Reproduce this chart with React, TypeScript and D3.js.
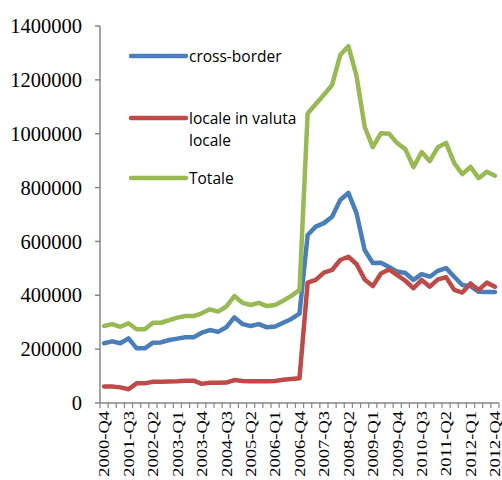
import React from "react";
import * as d3 from "d3";

const quarters: string[] = (() => {
  const out: string[] = [];
  for (let y = 2000; y <= 2012; y++) {
    for (let q = 1; q <= 4; q++) {
      if (y === 2000 && q < 4) continue;
      out.push(`${y}-Q${q}`);
    }
  }
  return out;
})();

const crossBorder = [
  222000, 229000, 222000, 240000, 203000, 203000, 224000, 225000, 234000, 239000,
  244000, 244000, 261000, 271000, 264000, 281000, 318000, 293000, 286000, 293000,
  281000, 284000, 298000, 312000, 332000, 624000, 655000, 668000, 692000, 754000,
  780000, 705000, 568000, 520000, 521000, 505000, 488000, 483000, 457000, 479000,
  469000, 491000, 501000, 469000, 438000, 434000, 413000, 412000, 412000,
];

const localeValuta = [
  61000, 61000, 58000, 51000, 73000, 73000, 79000, 79000, 80000, 81000,
  83000, 83000, 71000, 75000, 75000, 76000, 85000, 82000, 81000, 81000,
  81000, 82000, 86000, 89000, 92000, 447000, 457000, 484000, 494000, 531000,
  543000, 516000, 459000, 434000, 481000, 496000, 475000, 454000, 426000, 457000,
  432000, 459000, 467000, 420000, 410000, 444000, 420000, 447000, 432000,
];

const totale = [
  286000, 293000, 283000, 296000, 274000, 274000, 298000, 298000, 308000, 317000,
  323000, 323000, 333000, 348000, 339000, 358000, 397000, 372000, 364000, 372000,
  360000, 364000, 380000, 398000, 420000, 1075000, 1110000, 1145000, 1181000, 1292000,
  1325000, 1215000, 1026000, 950000, 1002000, 1000000, 965000, 943000, 876000, 932000,
  898000, 950000, 966000, 891000, 850000, 877000, 835000, 859000, 844000,
];

const yTicks = [0, 200000, 400000, 600000, 800000, 1000000, 1200000, 1400000];

const seriesNames = ["cross-border", "locale in valuta\nlocale", "Totale"];
const seriesColors = ["#4A7EBB", "#BE4B48", "#98B954"];

export default function App() {
  const W = 502;
  const H = 480;
  const left = 100;
  const right = 499;
  const top = 26;
  const bottom = 403;

  const x = d3.scaleBand<string>().domain(quarters).range([left, right]).padding(0);
  const y = d3.scaleLinear().domain([0, 1400000]).range([bottom, top]);
  const cx = (q: string) => (x(q) as number) + x.bandwidth() / 2;

  const line = d3
    .line<number>()
    .x((_, i) => cx(quarters[i]))
    .y((d) => y(d));

  const data = [crossBorder, localeValuta, totale];
  const axisColor = "#868686";

  const legendY = [56, 118, 178];

  return (
    <svg
      width={W}
      height={H}
      style={{ position: "absolute", left: 0, top: 0, background: "#fff" }}
    >
      {/* y axis */}
      <line x1={left} x2={left} y1={top} y2={bottom} stroke={axisColor} strokeWidth={1.5} />
      {yTicks.map((t) => (
        <g key={t}>
          <line x1={left - 5} x2={left} y1={y(t)} y2={y(t)} stroke={axisColor} strokeWidth={1.5} />
          <text
            x={82}
            y={y(t)}
            dy="0.35em"
            textAnchor="end"
            fontFamily="'Liberation Serif', 'Times New Roman', serif"
            fontSize={20.5}
            fill="#000"
          >
            {t}
          </text>
        </g>
      ))}
      {/* x axis */}
      <line x1={left} x2={right} y1={bottom} y2={bottom} stroke={axisColor} strokeWidth={1.5} />
      {d3.range(quarters.length + 1).map((i) => {
        const xx = left + i * x.step();
        return (
          <line key={i} x1={xx} x2={xx} y1={bottom} y2={bottom + 5} stroke={axisColor} strokeWidth={1.2} />
        );
      })}
      {quarters.map((q, i) =>
        i % 3 === 0 ? (
          <text
            key={q}
            transform={`translate(${cx(q)},${411}) rotate(-90) scale(1,0.82)`}
            dy="0.35em"
            textAnchor="end"
            fontFamily="'Liberation Serif', 'Times New Roman', serif"
            fontSize={18.5}
            fill="#000"
          >
            {q}
          </text>
        ) : null
      )}
      {/* series */}
      {data.map((d, k) => (
        <path
          key={k}
          d={line(d) || ""}
          fill="none"
          stroke={seriesColors[k]}
          strokeWidth={4.5}
          strokeLinejoin="round"
          strokeLinecap="round"
        />
      ))}
      {/* legend */}
      {seriesNames.map((name, k) => (
        <g key={name}>
          <line
            x1={131}
            x2={186}
            y1={legendY[k]}
            y2={legendY[k]}
            stroke={seriesColors[k]}
            strokeWidth={4.5}
            strokeLinecap="round"
          />
          {name.split("\n").map((ln, j) => (
            <text
              key={j}
              x={189}
              y={legendY[k] + j * 22.5}
              dy="0.36em"
              fontFamily="'Open Sans', 'Noto Sans', sans-serif"
              fontSize={15.5}
              fill="#000"
            >
              {ln}
            </text>
          ))}
        </g>
      ))}
    </svg>
  );
}
